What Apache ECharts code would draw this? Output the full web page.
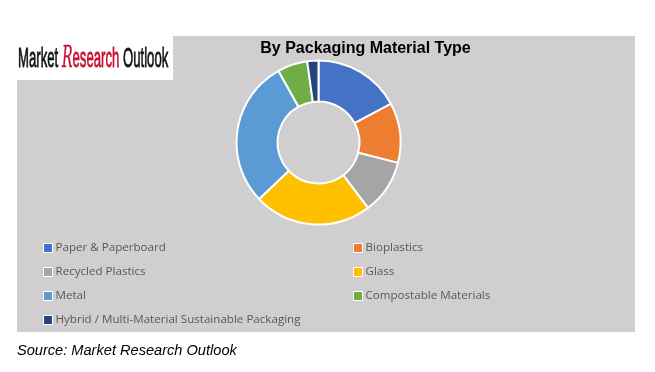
<!DOCTYPE html>
<html>
<head>
<meta charset="utf-8">
<script src="https://cdn.jsdelivr.net/npm/echarts@6/dist/echarts.min.js"></script>
<style>
html,body{margin:0;padding:0;background:#fff;}
#chart{width:655px;height:372px;}
</style>
</head>
<body>
<div id="chart"></div>
<script>
var categories = ["Paper & Paperboard","Bioplastics","Recycled Plastics","Glass","Metal","Compostable Materials","Hybrid / Multi-Material Sustainable Packaging"];
var shares = [17.2, 11.8, 10.7, 23.2, 29.0, 5.9, 2.2];
var colors = ["#4472C4","#ED7D31","#A5A5A5","#FFC000","#5B9BD5","#70AD47","#264478"];
var leftLegend = ["Paper & Paperboard","Recycled Plastics","Metal","Hybrid / Multi-Material Sustainable Packaging"];
var rightLegend = ["Bioplastics","Glass","Compostable Materials"];
var titleText = "By Packaging Material Type";
var sourceText = "Source: Market Research Outlook";

var chart = echarts.init(document.getElementById('chart'));
var legendCommon = {
  orient: 'vertical',
  icon: 'rect',
  padding: 0,
  itemWidth: 9,
  itemHeight: 9,
  itemGap: 10,
  itemStyle: {borderColor: '#fff', borderWidth: 1},
  textStyle: {color: '#595959', fontSize: 11.6, fontFamily: 'Open Sans', lineHeight: 14, padding: [0,0,0,-2]},
  selectedMode: false
};
chart.setOption({
  animation: false,
  color: colors,
  graphic: [
    {type: 'rect', shape: {x: 17, y: 36, width: 618, height: 296}, style: {fill: '#D0CECE'}, z: -10},
    {type: 'rect', shape: {x: 17, y: 36, width: 156, height: 44}, style: {fill: '#fff'}, z: -5},
    {type: 'text', x: 18, y: 44, scaleX: 0.47, z: 10, style: {
      text: '{a|Market }{b|R}{c|esearch}{a| Outlook}',
      rich: {
        a: {fontFamily: 'Liberation Sans', fontSize: 28, fill: '#111', stroke: '#111', lineWidth: 0.8},
        b: {fontFamily: 'DejaVu Serif', fontStyle: 'italic', fontSize: 30, fill: '#C8102E', stroke: '#C8102E', lineWidth: 0.4},
        c: {fontFamily: 'Liberation Sans', fontSize: 28, fill: '#C8102E', stroke: '#C8102E', lineWidth: 0.8}
      }
    }},
    {type: 'text', left: 17, top: 343, style: {text: sourceText, fontFamily: 'Liberation Sans', fontStyle: 'italic', fontSize: 14.6, fill: '#000'}}
  ],
  title: {
    text: titleText, left: 360.5, top: 36, textAlign: 'center',
    textStyle: {fontFamily: 'Liberation Sans', fontWeight: 'bold', fontSize: 16, color: '#000'}
  },
  legend: [
    Object.assign({left: 43, top: 241, data: leftLegend}, legendCommon),
    Object.assign({left: 353, top: 241, data: rightLegend}, legendCommon)
  ],
  series: [{
    type: 'pie',
    center: [318.5, 142.5],
    radius: [41, 82],
    startAngle: 90,
    clockwise: true,
    label: {show: false},
    labelLine: {show: false},
    itemStyle: {borderColor: '#fff', borderWidth: 2},
    data: categories.map(function (c, i) { return {name: c, value: shares[i]}; })
  }]
});
</script>
</body>
</html>
